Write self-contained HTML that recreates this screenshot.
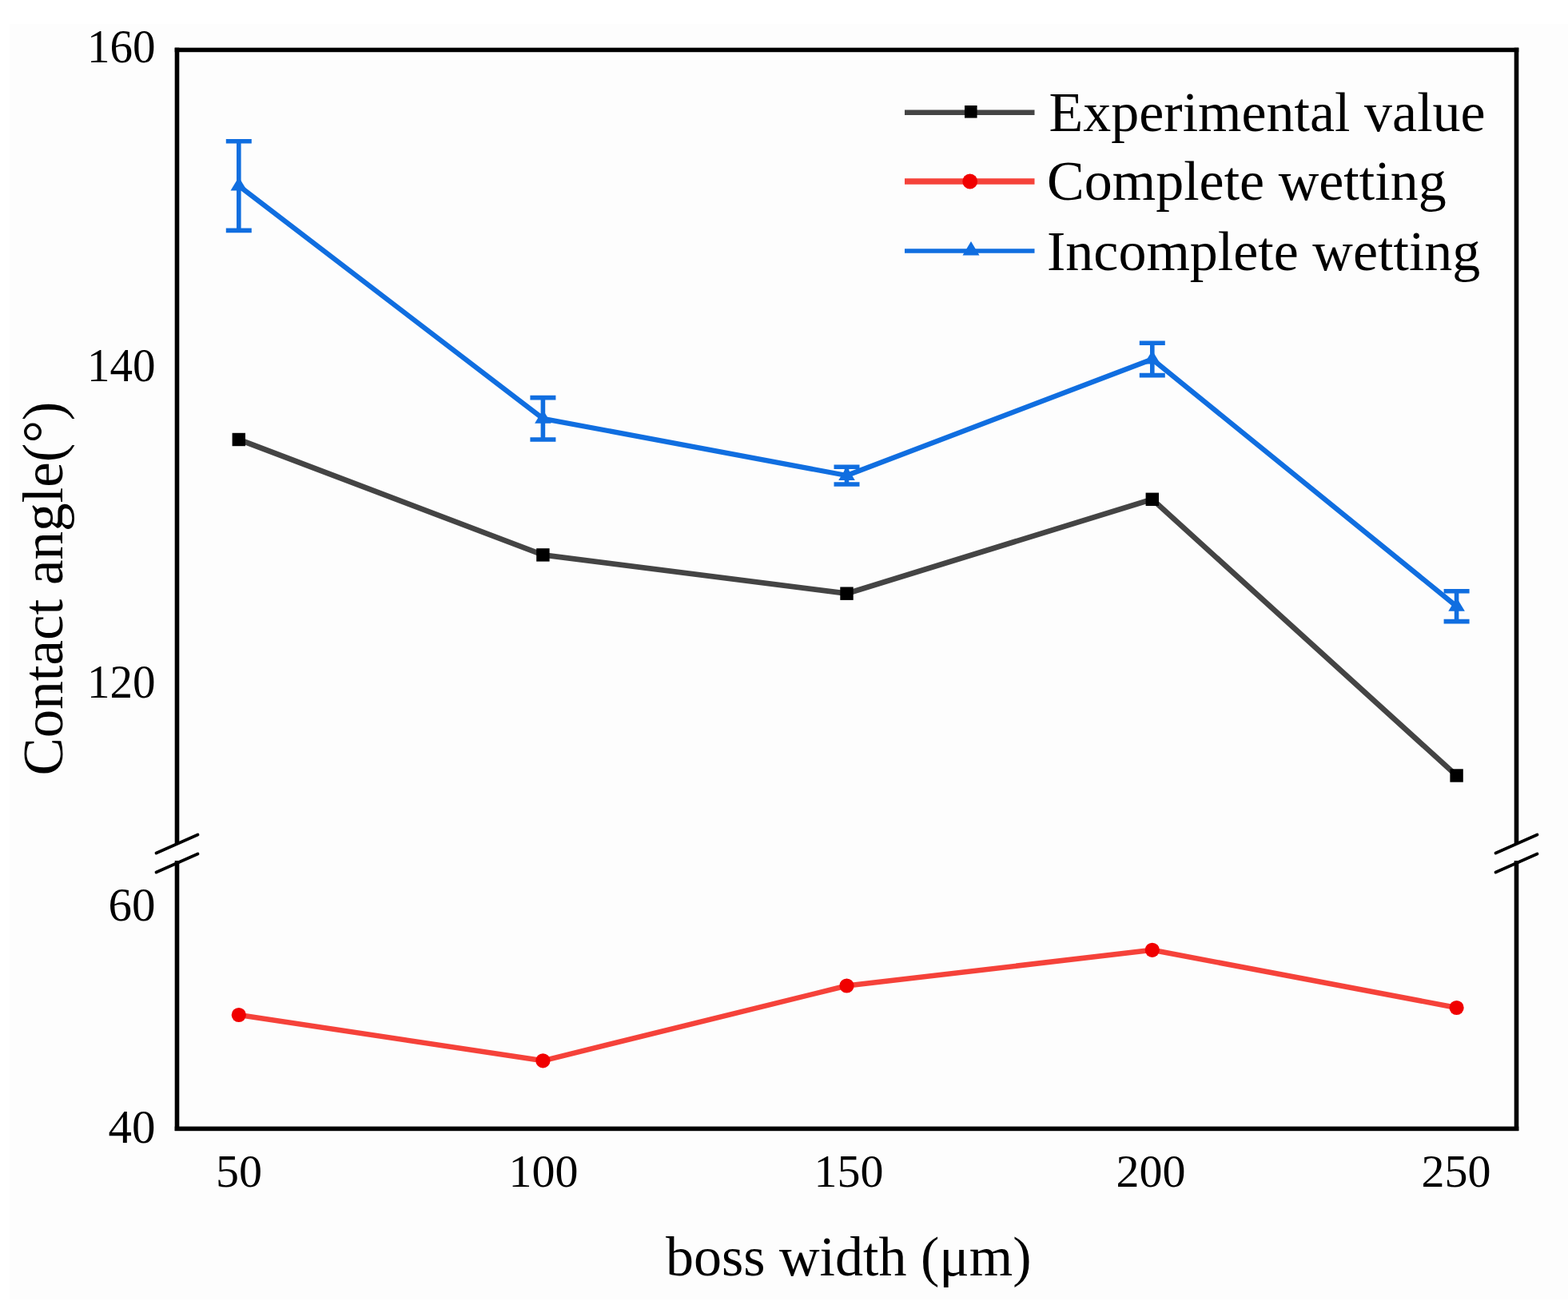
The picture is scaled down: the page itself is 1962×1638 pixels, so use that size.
<!DOCTYPE html>
<html>
<head>
<meta charset="utf-8">
<style>
html,body{margin:0;padding:0;background:#fff;}
body{width:1962px;height:1638px;overflow:hidden;}
svg{display:block;}
text{font-family:"Liberation Serif","Times New Roman",serif;fill:#000;}
</style>
</head>
<body>
<svg width="1962" height="1638" viewBox="0 0 1962 1638">
<rect x="12" y="30" width="1950" height="1596" fill="#fdfdfd"/>
<!-- frame -->
<g fill="#000">
<rect x="218.7" y="59.7" width="1681.6" height="5.5"/>
<rect x="218.7" y="1409.6" width="1681.6" height="5.6"/>
<rect x="218.7" y="59.7" width="5.6" height="996"/>
<rect x="218.7" y="1077" width="5.6" height="338"/>
<rect x="1894.7" y="59.7" width="5.6" height="996"/>
<rect x="1894.7" y="1077" width="5.6" height="338"/>
</g>
<!-- axis breaks -->
<g stroke="#000" stroke-width="3.8" stroke-linecap="round">
<line x1="195.5" y1="1067.5" x2="247.5" y2="1044.5"/>
<line x1="195.5" y1="1091.5" x2="247.5" y2="1068.5"/>
<line x1="1871.5" y1="1067.5" x2="1923.5" y2="1044.5"/>
<line x1="1871.5" y1="1091.5" x2="1923.5" y2="1068.5"/>
</g>
<!-- data lines -->
<polyline fill="none" stroke="#444444" stroke-width="6.8" stroke-linejoin="round" points="298.8,550 679.4,694.4 1059.5,742.7 1441.8,624.8 1822.6,970.5"/>
<polyline fill="none" stroke="#f5423a" stroke-width="6.5" stroke-linejoin="round" points="298.8,1270 679.4,1327.3 1059.5,1233.5 1441.8,1188.8 1822.6,1261"/>
<polyline fill="none" stroke="#106ee0" stroke-width="6.3" stroke-linejoin="round" points="298.8,232.5 679.4,523.8 1059.5,595 1441.8,449.5 1822.6,758.7"/>
<!-- black squares -->
<g fill="#000">
<rect x="290.6" y="541.8" width="16.4" height="16.4"/>
<rect x="671.2" y="686.2" width="16.4" height="16.4"/>
<rect x="1051.3" y="734.5" width="16.4" height="16.4"/>
<rect x="1433.6" y="616.6" width="16.4" height="16.4"/>
<rect x="1814.4" y="962.3" width="16.4" height="16.4"/>
</g>
<!-- red circles -->
<g fill="#f00000">
<circle cx="298.8" cy="1270" r="9.1"/>
<circle cx="679.4" cy="1327.3" r="9.1"/>
<circle cx="1059.5" cy="1233.5" r="9.1"/>
<circle cx="1441.8" cy="1188.8" r="9.1"/>
<circle cx="1822.6" cy="1261" r="9.1"/>
</g>
<!-- blue error bars -->
<g stroke="#106ee0" stroke-width="5.6" fill="none">
<path d="M298.8,176.7V288.4 M282.8,176.7H314.8 M282.8,288.4H314.8"/>
<path d="M679.4,497.6V550 M663.4,497.6H695.4 M663.4,550H695.4"/>
<path d="M1059.5,584.2V606 M1043.5,584.2H1075.5 M1043.5,606H1075.5"/>
<path d="M1441.8,429.3V469.6 M1425.8,429.3H1457.8 M1425.8,469.6H1457.8"/>
<path d="M1822.6,739.8V777.6 M1806.6,739.8H1838.6 M1806.6,777.6H1838.6"/>
</g>
<!-- blue triangles -->
<g fill="#106ee0">
<path d="M298.8,221.5 L309.1,238.5 L288.5,238.5 Z"/>
<path d="M679.4,512.8 L689.7,529.8 L669.1,529.8 Z"/>
<path d="M1059.5,584.0 L1069.8,601.0 L1049.2,601.0 Z"/>
<path d="M1441.8,438.5 L1452.1,455.5 L1431.5,455.5 Z"/>
<path d="M1822.6,747.7 L1832.9,764.7 L1812.3,764.7 Z"/>
</g>
<!-- y tick labels -->
<g font-size="59" text-anchor="end">
<text transform="translate(194.5,77.5) scale(0.967,1)" x="0" y="0">160</text>
<text transform="translate(194.5,476.5) scale(0.967,1)" x="0" y="0">140</text>
<text transform="translate(194.5,873) scale(0.967,1)" x="0" y="0">120</text>
<text x="194.5" y="1152">60</text>
<text x="194.5" y="1430">40</text>
</g>
<!-- x tick labels -->
<g font-size="58" text-anchor="middle">
<text x="299" y="1484.5">50</text>
<text x="680" y="1484.5">100</text>
<text x="1062" y="1484.5">150</text>
<text x="1440" y="1484.5">200</text>
<text x="1822" y="1484.5">250</text>
</g>
<!-- axis titles -->
<text x="833" y="1596" font-size="70">boss width (μm)</text>
<text transform="translate(77.5,970.5) rotate(-90)" x="0" y="0" font-size="71">Contact angle(°)</text>
<!-- legend -->
<g stroke-width="6" fill="none">
<line x1="1132" y1="140.8" x2="1294.5" y2="140.8" stroke="#444444" stroke-width="6.6"/>
<line x1="1132" y1="227" x2="1294.5" y2="227" stroke="#f5423a" stroke-width="7.6"/>
<line x1="1132" y1="314" x2="1294.5" y2="314" stroke="#106ee0" stroke-width="5.6"/>
</g>
<rect x="1207" y="132" width="15.6" height="15.6" fill="#000"/>
<circle cx="1213.7" cy="227" r="9.4" fill="#f00000"/>
<path d="M1215,302 L1225.5,319.5 L1204.5,319.5 Z" fill="#106ee0"/>
<g font-size="70">
<text x="1312.5" y="163.5">Experimental value</text>
<text x="1310" y="250">Complete wetting</text>
<text x="1310" y="337.5">Incomplete wetting</text>
</g>
</svg>
</body>
</html>
